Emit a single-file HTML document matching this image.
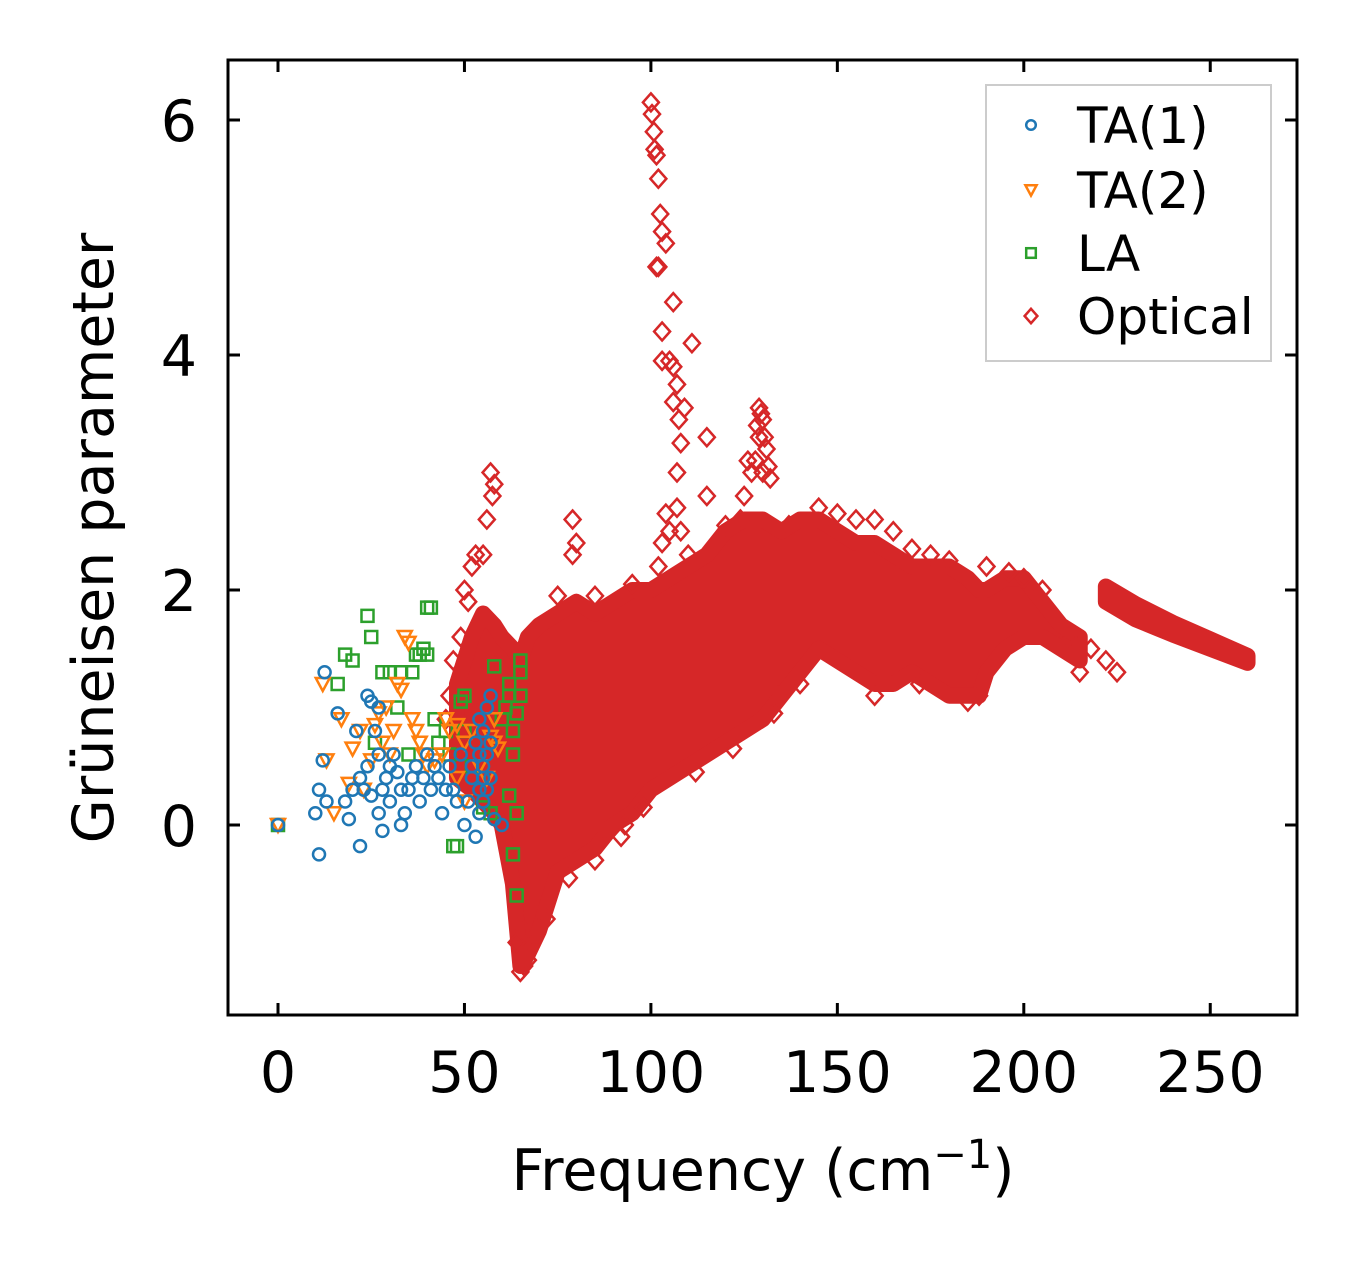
<!DOCTYPE html>
<html><head><meta charset="utf-8"><style>
html,body{margin:0;padding:0;background:#fff}
svg{display:block;font-family:"DejaVu Sans","Liberation Sans",sans-serif}
</style></head><body>
<svg id="chart" width="1357" height="1264" viewBox="0 0 1357 1264" xmlns="http://www.w3.org/2000/svg">
<rect x="0" y="0" width="1357" height="1264" fill="#fff"/>
<g id="plot"></g>
<rect x="228" y="60" width="1069" height="955" fill="none" stroke="#000" stroke-width="3"/>
<g id="axes"></g>
<text x="763" y="1190" font-size="57" text-anchor="middle">Frequency (cm<tspan font-size="40" dy="-22">−1</tspan><tspan dy="22">)</tspan></text>
<text transform="translate(113,538) rotate(-90)" font-size="57" text-anchor="middle">Grüneisen parameter</text>
<g>
<rect x="986" y="85" width="285" height="276" fill="#fff" fill-opacity="0.8" stroke="#ccc" stroke-width="2"/>
<g id="legend-items"></g>
</g>
</svg>
<script>
const xTicks=[0,50,100,150,200,250];
const yTicks=[0,2,4,6];
// Acoustic branches [freq, gamma]
const ta1=[[0,0],[10,0.1],[11,-0.25],[11,0.3],[12,0.55],[12.5,1.3],[13,0.2],[16,0.95],[18,0.2],[19,0.05],[20,0.3],[21,0.8],[22,0.4],[22,-0.18],[23,0.3],[24,0.5],[24,1.1],[25,1.05],[25,0.25],[26,0.8],[27,0.6],[27,1.0],[27,0.1],[28,-0.05],[28,0.3],[29,0.4],[30,0.5],[30,0.2],[31,0.6],[32,0.45],[33,0.3],[33,0.0],[34,0.1],[35,0.3],[36,0.4],[37,0.5],[38,0.2],[39,0.4],[40,0.6],[41,0.3],[42,0.5],[43,0.4],[44,0.1],[45,0.3],[46,0.5],[47,0.3],[48,0.2],[49,0.6],[50,0.0],[51,0.2],[52,0.4],[53,-0.1],[54,0.3],[54,0.6],[55,0.5],[55,0.8],[56,1.0],[56,0.3],[57,0.7],[57,1.1],[52,0.5],[53,0.7],[55,0.4],[55,0.2],[54,0.1],[56,0.6],[54,0.9],[58,0.05],[60,0.0],[57,0.4]];
const ta2=[[0,0],[12,1.2],[13,0.55],[15,0.1],[17,0.9],[19,0.35],[20,0.65],[22,0.8],[23,0.3],[25,0.55],[26,0.85],[27,0.95],[28,0.7],[29,1.0],[30,0.6],[31,0.8],[32,1.2],[33,1.15],[34,1.6],[35,1.55],[36,0.9],[37,0.8],[38,0.7],[39,0.6],[40,0.5],[42,0.55],[44,0.6],[45,0.9],[46,0.8],[48,0.85],[50,0.7],[52,0.8],[54,0.5],[56,0.4],[58,0.7],[48,0.4],[50,0.2],[57,0.75],[58,0.9],[59,0.65]];
const la=[[0,0],[16,1.2],[18,1.45],[20,1.4],[24,1.78],[25,1.6],[26,0.7],[28,1.3],[30,1.3],[32,1.0],[33,1.3],[35,0.6],[36,1.3],[37,1.45],[38,1.45],[39,1.5],[40,1.45],[40,1.85],[41,1.85],[42,0.9],[43,0.7],[45,0.8],[46,0.6],[47,-0.18],[48,-0.18],[49,1.05],[50,1.1],[50,0.8],[52,0.5],[55,0.15],[57,0.1],[58,1.35],[60,0.9],[61,1.0],[62,1.1],[62,0.25],[63,0.6],[63,-0.25],[64,-0.6],[64,0.1],[65,1.1],[65,1.3],[65,1.4],[64,0.95],[62,1.2],[63,0.8]];
// Optical dense region: freq, lower envelope, upper envelope
const bandFreq=[48,52,55,58,60,63,65,67,70,75,80,85,90,95,100,105,110,115,120,125,130,135,140,145,150,155,160,165,170,175,180,185,188,190,195,200,205,210,215];
const bandLo=[0.4,0.3,0.2,0.1,0.0,-0.5,-1.2,-1.1,-0.9,-0.4,-0.3,-0.2,0.0,0.1,0.3,0.4,0.5,0.6,0.7,0.8,0.9,1.1,1.3,1.5,1.4,1.3,1.2,1.2,1.3,1.2,1.1,1.1,1.1,1.3,1.5,1.6,1.6,1.5,1.4];
const bandHi=[1.2,1.6,1.8,1.7,1.6,1.5,1.4,1.6,1.7,1.8,1.9,1.8,1.9,2.0,2.0,2.1,2.2,2.3,2.5,2.6,2.6,2.5,2.6,2.6,2.5,2.4,2.4,2.3,2.2,2.2,2.2,2.1,2.0,2.0,2.1,2.1,1.9,1.7,1.6];
// High-frequency optical tail band
const tailFreq=[222,230,240,250,260];
const tailLo=[1.9,1.75,1.62,1.5,1.38];
const tailHi=[2.03,1.88,1.72,1.58,1.44];
// Optical outlier points
const optical=[[100,6.15],[100.3,6.05],[100.8,5.9],[101,5.75],[101.5,5.7],[102,5.5],[102.5,5.2],[103,5.05],[104,4.95],[101.5,4.75],[102,4.75],[103,4.2],[103,3.95],[105,3.95],[106,3.9],[107,3.75],[106,3.6],[107.5,3.45],[109,3.55],[108,3.25],[107,3.0],[106,4.45],[111,4.1],[115,3.3],[115,2.8],[107,2.7],[104,2.65],[105,2.5],[103,2.4],[102,2.2],[108,2.5],
[129,3.55],[129.5,3.5],[130,3.45],[130.5,3.3],[131,3.2],[131.5,3.05],[132,2.95],[128.5,3.4],[128,3.1],[127,3.0],[126,3.1],[125,2.8],[124,2.6],[129,3.3],[130,3.0],
[57,3.0],[57.5,2.8],[56,2.6],[58,2.9],[55,2.3],[52,2.2],[50,2.0],[51,1.9],[53,2.3],[49,1.6],[47,1.4],[46,1.1],[45,0.9],
[65,-1.25],[66,-1.2],[67,-1.15],[68,-1.0],[64,-1.0],[69,-0.95],[66,-0.9],
[79,2.6],[79,2.3],[80,2.4],[93,0.0],[92,-0.1],[85,-0.3],[88,-0.05],[133,0.95],[134,1.1],[160,2.6],[155,2.6],[165,2.5],[170,2.35],[180,2.25],[190,2.2],[212,1.6],[215,1.3],[218,1.5],[225,1.3],[222,1.4],[145,2.7],[150,2.65],[196,2.15],[200,2.1],
[75,1.95],[85,1.95],[95,2.05],[110,2.3],[120,2.55],[137,2.55],[175,2.3],[205,2.0],[72,-0.8],[78,-0.45],[98,0.15],[112,0.45],[122,0.65],[140,1.2],[160,1.1],[172,1.2],[185,1.05],[188,1.1]];

const X=v=>278+v*3.729, Y=v=>825-v*117.5;
const NS='http://www.w3.org/2000/svg';
const plot=document.getElementById('plot'), axes=document.getElementById('axes');
function mk(tag,attrs,parent){const e=document.createElementNS(NS,tag);for(const k in attrs)e.setAttribute(k,attrs[k]);parent.appendChild(e);return e;}
const C={ta1:'#1f77b4',ta2:'#ff7f0e',la:'#2ca02c',opt:'#d62728'};
function marker(kind,cx,cy,col,parent,s){
  s=s||1;let e;
  if(kind==='circle') e=mk('circle',{cx:cx,cy:cy,r:6*s,fill:'none',stroke:col,'stroke-width':2.5},parent);
  else if(kind==='tri') e=mk('polygon',{points:`${cx-7*s},${cy-6*s} ${cx+7*s},${cy-6*s} ${cx},${cy+7*s}`,fill:'none',stroke:col,'stroke-width':2.5},parent);
  else if(kind==='square') e=mk('rect',{x:cx-6*s,y:cy-6*s,width:12*s,height:12*s,fill:'none',stroke:col,'stroke-width':2.5},parent);
  else e=mk('polygon',{points:`${cx},${cy-9*s} ${cx+8*s},${cy} ${cx},${cy+9*s} ${cx-8*s},${cy}`,fill:'none',stroke:col,'stroke-width':2.5},parent);
  return e;
}
function band(fr,lo,hi,name){
  let pts=fr.map((f,i)=>X(f)+','+Y(hi[i]));
  for(let i=fr.length-1;i>=0;i--)pts.push(X(fr[i])+','+Y(lo[i]));
  const p=mk('polygon',{points:pts.join(' '),fill:C.opt,stroke:C.opt,'stroke-width':16,'stroke-linejoin':'round'},plot);
  
  
}
band(bandFreq,bandLo,bandHi,'optical-dense-region');
band(tailFreq,tailLo,tailHi,'optical-tail-region');
const og=mk('g',{},plot);


optical.forEach(d=>{const m=marker('diamond',X(d[0]),Y(d[1]),C.opt,og);

});
[['la',la,'square'],['ta2',ta2,'tri'],['ta1',ta1,'circle']].forEach(([k,arr,kind])=>{
  const g=mk('g',{},plot);
  
  
  arr.forEach(d=>{const m=marker(kind,X(d[0]),Y(d[1]),C[k],g);
  
  });
});
xTicks.forEach(t=>{const x=X(t);
  mk('line',{x1:x,y1:1015,x2:x,y2:1003,stroke:'#000','stroke-width':3},axes);
  mk('line',{x1:x,y1:60,x2:x,y2:72,stroke:'#000','stroke-width':3},axes);
  const tx=mk('text',{x:x,y:1092,'font-size':57,'text-anchor':'middle'},axes);tx.textContent=t;
  
  
});
yTicks.forEach(t=>{const y=Y(t);
  mk('line',{x1:228,y1:y,x2:240,y2:y,stroke:'#000','stroke-width':3},axes);
  mk('line',{x1:1297,y1:y,x2:1285,y2:y,stroke:'#000','stroke-width':3},axes);
  const tx=mk('text',{x:197,y:y+21,'font-size':57,'text-anchor':'end'},axes);tx.textContent=t;
  
  
});
const lg=document.getElementById('legend-items');
[['TA(1)','circle',C.ta1,125],['TA(2)','tri',C.ta2,190],['LA','square',C.la,253],['Optical','diamond',C.opt,316]].forEach(([lab,kind,col,y])=>{
  const g=mk('g',{},lg);
  
  
  marker(kind,1031,y,col,g,0.8);
  const t=mk('text',{x:1077,y:y+18,'font-size':50},g);t.textContent=lab;
});
</script>
</body></html>
